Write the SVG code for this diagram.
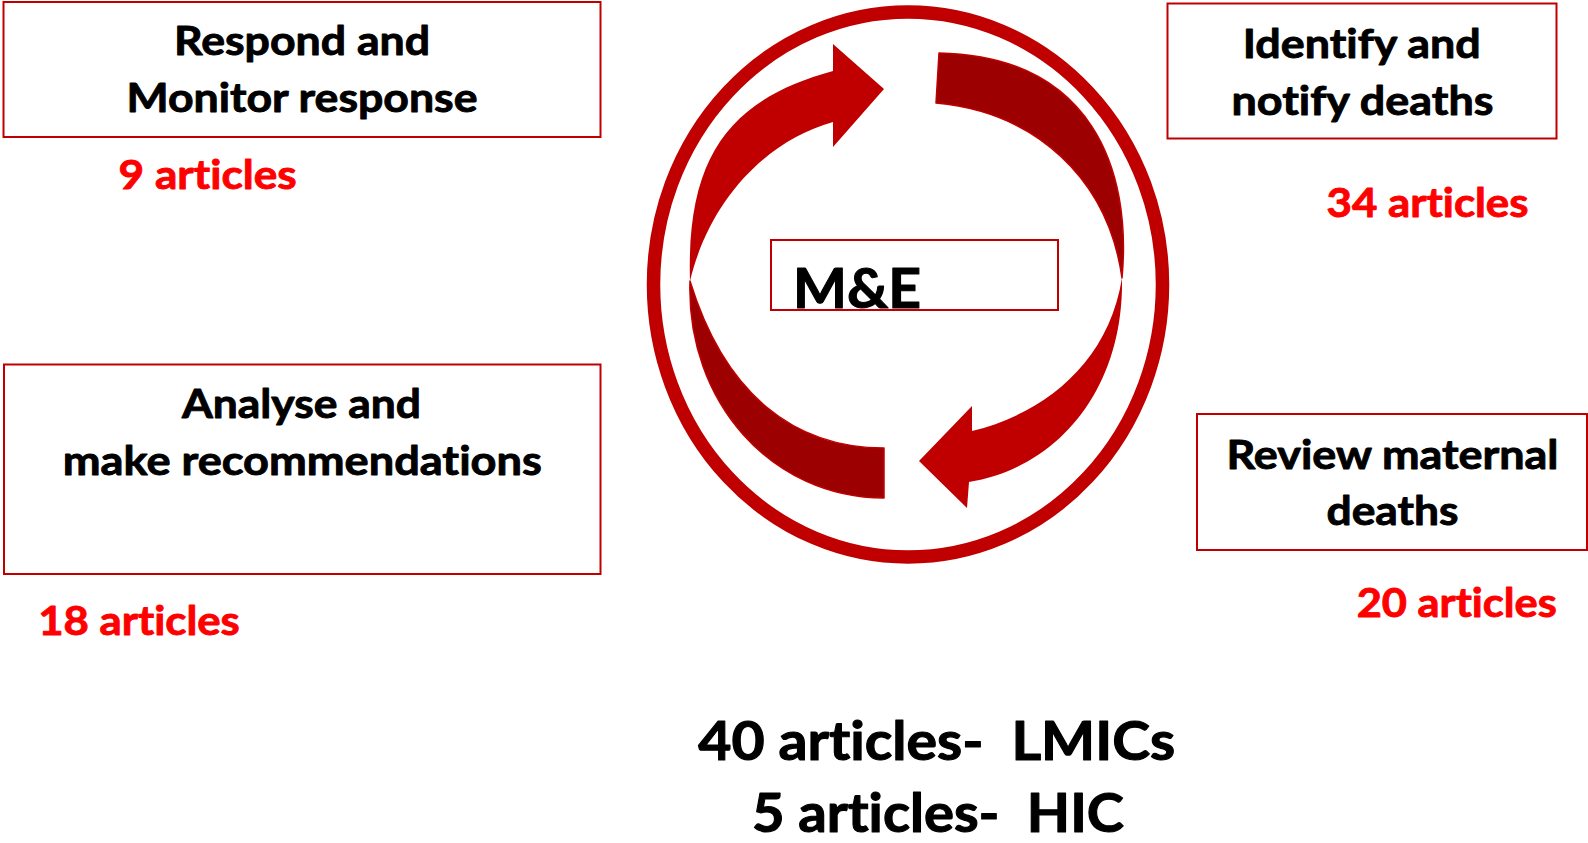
<svg xmlns="http://www.w3.org/2000/svg" width="1588" height="843" viewBox="0 0 1588 843">
<style>
.box{fill:#fff;stroke:#C00000;stroke-width:2}
.t{font-family:Lato,"Open Sans","Liberation Sans",sans-serif;font-weight:bold;fill:#000;stroke:#000;stroke-width:0.9;stroke-linejoin:round;text-anchor:middle;white-space:pre;font-variant-ligatures:none;font-feature-settings:"liga" 0,"clig" 0}
.lbl{font-size:41px}
.red{fill:#FF0000;stroke:#FF0000}
.big{font-size:54px;stroke-width:1.1}
.bright{fill:#C00000}
.dark{fill:#9C0000;stroke:#C00000;stroke-width:1.5;stroke-linejoin:round}
</style>
<rect width="1588" height="843" fill="#fff"/>
<g id="cycle">
  <ellipse cx="908" cy="284.5" rx="254.5" ry="272.5" fill="none" stroke="#C00000" stroke-width="13.5"/>
</g>
<g id="connectors">
  <path class="dark" d="M690,281 C686,402 772,498 884,498 L884,448 C795,448 725,395 690,281 Z"/>
  <path class="bright" d="M690,281 C686,150 735,98 833,71 L833,44 L884,89 L833,147 L833,122 C768,140 710,198 690,281 Z"/>
  <path class="dark" d="M939,53 C1092,56 1132,170 1122,278 C1108,178 1035,112 936,103 Z"/>
  <path class="bright" d="M1122,278 C1124,387 1060,467 969,482 L967,508 L919,461 L972,406 L972,431 C1042,414 1108,365 1122,278 Z"/>
</g>
<g id="me">
  <rect class="box" x="771" y="240" width="287" height="70"/>
  <text class="t" x="793" y="308" style="font-size:56px;text-anchor:start;stroke-width:1.1" textLength="128" lengthAdjust="spacingAndGlyphs">M&amp;E</text>
</g>
<g id="respond">
  <rect class="box" x="3.5" y="2" width="597" height="135"/>
  <text class="t lbl" x="302" y="55" textLength="256" lengthAdjust="spacingAndGlyphs">Respond and</text>
  <text class="t lbl" x="302" y="111.5" textLength="351" lengthAdjust="spacingAndGlyphs">Monitor response</text>
  <text class="t lbl red" x="207.6" y="189" textLength="178" lengthAdjust="spacingAndGlyphs">9 articles</text>
</g>
<g id="identify">
  <rect class="box" x="1167.5" y="3.5" width="389" height="135"/>
  <text class="t lbl" x="1361.7" y="57.5" textLength="238" lengthAdjust="spacingAndGlyphs">Identify and</text>
  <text class="t lbl" x="1362.5" y="115" textLength="262" lengthAdjust="spacingAndGlyphs">notify deaths</text>
  <text class="t lbl red" x="1427.5" y="216.5" textLength="202" lengthAdjust="spacingAndGlyphs">34 articles</text>
</g>
<g id="analyse">
  <rect class="box" x="4" y="364.5" width="596.5" height="209.5"/>
  <text class="t lbl" x="301.5" y="418" textLength="239" lengthAdjust="spacingAndGlyphs">Analyse and</text>
  <text class="t lbl" x="302.3" y="475" textLength="479" lengthAdjust="spacingAndGlyphs">make recommendations</text>
  <text class="t lbl red" x="139" y="635" textLength="201.5" lengthAdjust="spacingAndGlyphs">18 articles</text>
</g>
<g id="review">
  <rect class="box" x="1197" y="414" width="390" height="136"/>
  <text class="t lbl" x="1392.5" y="469" textLength="332" lengthAdjust="spacingAndGlyphs">Review maternal</text>
  <text class="t lbl" x="1392.5" y="525" textLength="132" lengthAdjust="spacingAndGlyphs">deaths</text>
  <text class="t lbl red" x="1456.7" y="616.5" textLength="200" lengthAdjust="spacingAndGlyphs">20 articles</text>
</g>
<g id="summary">
  <text class="t big" x="936.7" y="760" textLength="477" lengthAdjust="spacingAndGlyphs">40 articles-  LMICs</text>
  <text class="t big" x="938" y="831.5" textLength="372" lengthAdjust="spacingAndGlyphs">5 articles-  HIC</text>
</g>
</svg>
